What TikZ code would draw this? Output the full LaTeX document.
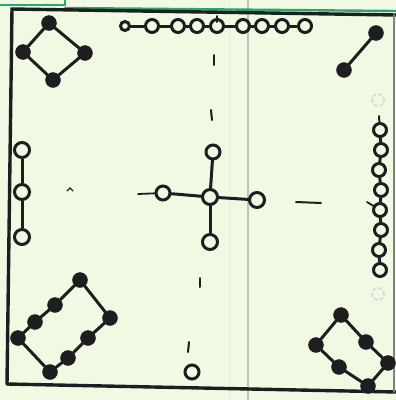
\documentclass[tikz,border=0pt]{standalone}
\usepackage{tikz}
\definecolor{paper}{RGB}{241,249,226}
\definecolor{ink}{RGB}{28,30,32}
\definecolor{rule}{RGB}{40,168,108}
\tikzset{
  fullnode/.style={circle, fill=ink, draw=ink, inner sep=0pt, minimum size=15pt},
  opennode/.style={circle, draw=ink, line width=3pt, inner sep=0pt, minimum size=12pt},
  ghostnode/.style={circle, draw=gray!30, dashed, line width=1.8pt, inner sep=0pt, minimum size=12pt},
  bond/.style={draw=ink, line width=3pt},
  tick/.style={draw=ink, line width=2pt},
}
\begin{document}
\begin{tikzpicture}[x=1pt, y=-1pt, line cap=round]
  % paper
  \fill[paper] (0,0) rectangle (396,400);
  \useasboundingbox (0,0) rectangle (396,400);
  \draw[gray!15, line width=1pt] (229,0) -- (229,400);
  \draw[gray!50, line width=2.2pt] (248,0) -- (248,400);
  \draw[rule, line width=1.8pt] (0,5) -- (65,5) -- (65,0);
  \draw[rule, line width=2.4pt] (65,8) -- (396,11);
  % frame
  \draw[ink, line width=3.4pt] (7,384) -- (12,9) -- (396,15);
  \draw[ink, line width=3.4pt] (7,384) -- (396,392);
  \draw[ink!55, line width=1.8pt] (394,15) -- (394,392);
  % dashed cross marks
  \foreach \a/\b/\c/\d in {217/16/217/22, 214/55/214/65, 211/110/212/120,
                           200/278/200/287, 189/342/188/352,
                           296/202/321/203}
    \draw[tick] (\a,\b) -- (\c,\d);
  \draw[tick, line width=1.4pt] (67,191) -- (70,188) -- (73,191);
  % top left diamond
  \node[fullnode] (dt) at (49,23) {};
  \node[fullnode] (dl) at (23,52) {};
  \node[fullnode] (dr) at (85,53) {};
  \node[fullnode] (db) at (53,80) {};
  \draw[bond] (dl) -- (dt) -- (dr) -- (db) -- (dl);
  % top chain
  \node[opennode, minimum size=9pt] (c1) at (125,26) {};
  \foreach \x [count=\i from 2] in {152,178,197,217,243,262,282,305}
    \node[opennode, minimum size=13pt] (c\i) at (\x,26) {};
  \foreach \i/\j in {1/2,2/3,3/4,4/5,5/6,6/7,7/8,8/9}
    \draw[bond] (c\i) -- (c\j);
  % top right pair
  \node[fullnode] (p1) at (376,33) {};
  \node[fullnode] (p2) at (344,70) {};
  \draw[bond] (p1) -- (p2);
  % left chain
  \node[opennode, minimum size=15pt] (l1) at (22,150) {};
  \node[opennode, minimum size=15pt] (l2) at (22,192) {};
  \node[opennode, minimum size=15pt] (l3) at (22,237) {};
  \draw[bond] (l1) -- (l2) -- (l3);
  % centre star
  \node[opennode, minimum size=15pt] (hub) at (210,197) {};
  \node[opennode, minimum size=14pt] (hn) at (213,152) {};
  \node[opennode, minimum size=14pt] (hw) at (163,193) {};
  \node[opennode, minimum size=15pt] (he) at (257,200) {};
  \node[opennode, minimum size=15pt] (hs) at (210,242) {};
  \coordinate (hwx) at (138,194);
  \foreach \n in {hn,hw,he,hs}
    \draw[bond] (hub) -- (\n);
  \draw[bond, line width=1.8pt] (hw) -- (hwx);
  % right chain
  \node[ghostnode] (g1) at (378,100) {};
  \foreach \y/\x [count=\i] in {130/380,150/381,170/379,190/381,210/380,230/381,250/379,270/380}
    \node[opennode, minimum size=13pt] (r\i) at (\x,\y) {};
  \node[ghostnode] (g2) at (378,294) {};
  \foreach \i/\j in {1/2,2/3,3/4,4/5,5/6,6/7,7/8}
    \draw[bond] (r\i) -- (r\j);
  \coordinate (rtop) at (379,116);
  \coordinate (rside) at (367,202);
  \draw[bond, line width=2pt] (r1) -- (rtop);
  \draw[bond, line width=1.8pt] (r5) -- (rside);
  % bottom left ring
  \foreach \x/\y [count=\i] in {80/280,55/305,35/322,18/338,50/372,68/358,88/338,110/318}
    \node[fullnode] (a\i) at (\x,\y) {};
  \foreach \i/\j in {1/2,2/3,3/4,4/5,5/6,6/7,7/8,8/1}
    \draw[bond] (a\i) -- (a\j);
  % bottom right ring
  \foreach \x/\y [count=\i] in {341/315,316/345,366/342,339/367,388/363,368/386}
    \node[fullnode] (b\i) at (\x,\y) {};
  \foreach \i/\j in {2/1,1/3,3/5,5/6,6/4,4/2}
    \draw[bond] (b\i) -- (b\j);
  % bottom loose node
  \node[opennode, minimum size=14pt] (bc) at (192,372) {};
\end{tikzpicture}
\end{document}
